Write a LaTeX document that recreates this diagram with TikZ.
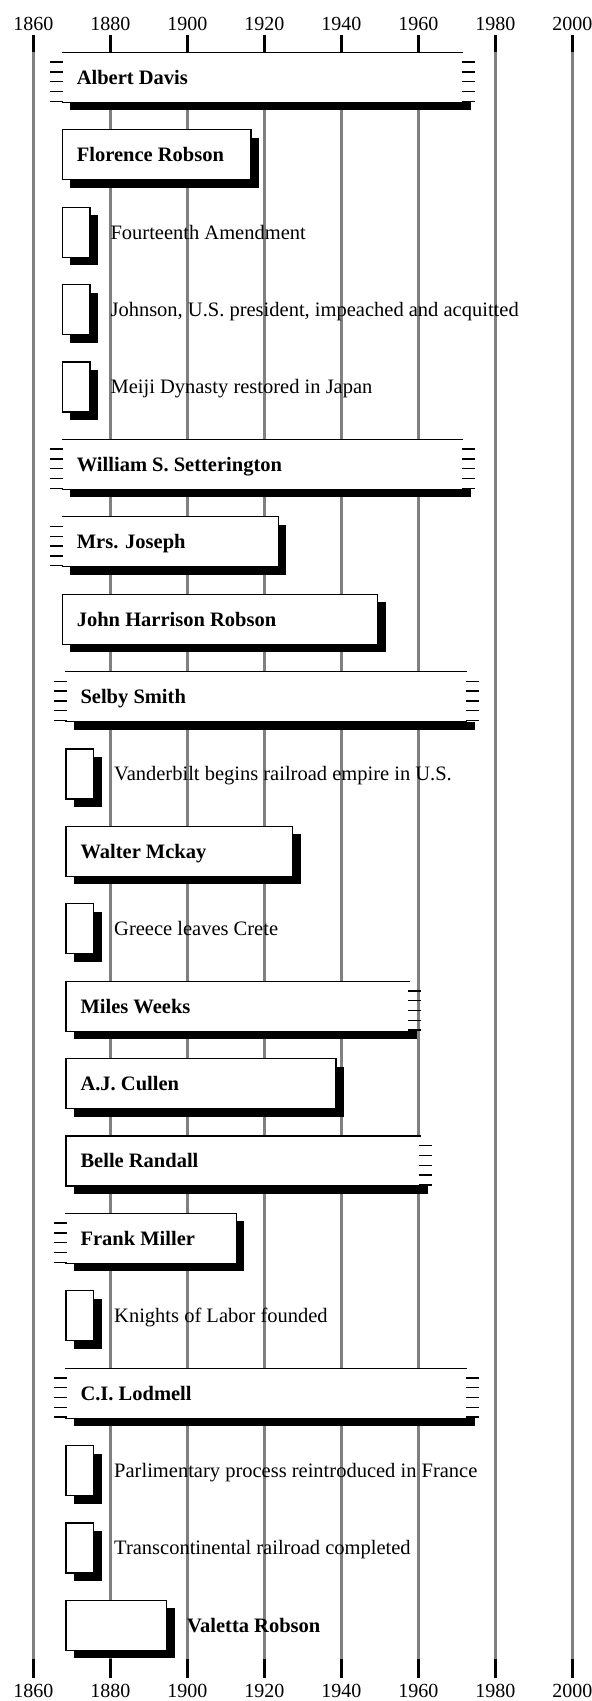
\documentclass[tikz,border=0pt]{standalone}
\usepackage{fontspec}
\setmainfont{Liberation Serif}
\usepackage{tikz}
\definecolor{gridgray}{RGB}{128,128,128}
\tikzset{
  yearline/.style={draw=gridgray, line width=2.7pt},
  yeartick/.style={draw=black, line width=3pt},
  yearlabel/.style={anchor=base, font=\fontsize{20}{24}\selectfont},
  barline/.style={line width=1.2pt, line cap=rect},
  fuzzline/.style={line width=1.5pt},
  barshadow/.style={fill=black},
  nametext/.style={anchor=base west, font=\fontsize{20.5}{24}\selectfont\bfseries},
  eventtext/.style={anchor=base west, font=\fontsize{20.5}{24}\selectfont}
}
% row, left, right, open left, open right, name, text inside, style, text
\newcommand{\timebar}[9]{%
  \pgfmathsetmacro{\bartop}{52.3+77.4*#1}%
  \pgfmathsetmacro{\barbot}{\bartop+50}%
  \ifnum#5=1
    \fill[barshadow] (#2+8,\barbot) rectangle (#3+8,\barbot+8);
  \else
    \fill[barshadow] (#2+8,\bartop+8) rectangle (#3+8,\barbot+8);
  \fi
  \fill[white] (#2,\bartop) rectangle (#3,\barbot);
  \draw[barline] (#2,\bartop) -- (#3,\bartop) (#2,\barbot) -- (#3,\barbot);
  \ifnum#4=1
    \foreach \k in {1,...,5} \draw[fuzzline] (#2-12,\bartop+9.8*\k) -- (#2+1,\bartop+9.8*\k);
  \else
    \draw[barline] (#2,\bartop) -- (#2,\barbot);
  \fi
  \ifnum#5=1
    \foreach \k in {1,...,5} \draw[fuzzline] (#3-1,\bartop+9.8*\k) -- (#3+12,\bartop+9.8*\k);
  \else
    \draw[barline] (#3,\bartop) -- (#3,\barbot);
  \fi
  \ifnum#7=1
    \node[#8] (#6) at (#2+11,\bartop+32) {#9};
  \else
    \node[#8] (#6) at (#3+17,\bartop+32) {#9};
  \fi
}

\begin{document}
\begin{tikzpicture}[x=1pt, y=-1pt]
  \useasboundingbox (0,0) rectangle (592,1701);
  % year grid
  \foreach \yr in {1860,1880,...,2000}{
    \pgfmathsetmacro{\yx}{33.3+3.85*(\yr-1860)}
    \draw[yearline] (\yx,51.7) -- (\yx,1659);
    \draw[yeartick] (\yx,35) -- (\yx,51.7);
    \draw[yeartick] (\yx,1659) -- (\yx,1678);
    \node[yearlabel] (top\yr) at (\yx,30) {\yr};
    \node[yearlabel] (bot\yr) at (\yx,1697) {\yr};
  }
  % lives and events
  \timebar{0}{62.3}{462.7}{1}{1}{albert}{1}{nametext}{Albert Davis}
  \timebar{1}{62.3}{251}{0}{0}{florence}{1}{nametext}{Florence Robson}
  \timebar{2}{62.3}{90}{0}{0}{amendment}{0}{eventtext}{Fourteenth Amendment}
  \timebar{3}{62.3}{90}{0}{0}{johnson}{0}{eventtext}{Johnson, U.S. president, impeached and acquitted}
  \timebar{4}{62.3}{90}{0}{0}{meiji}{0}{eventtext}{Meiji Dynasty restored in Japan}
  \timebar{5}{62.3}{462.7}{1}{1}{setterington}{1}{nametext}{William S. Setterington}
  \timebar{6}{62.3}{278.4}{1}{0}{joseph}{1}{nametext}{Mrs. Joseph}
  \timebar{7}{62.3}{377.7}{0}{0}{jhrobson}{1}{nametext}{John Harrison Robson}
  \timebar{8}{66}{466.5}{1}{1}{selby}{1}{nametext}{Selby Smith}
  \timebar{9}{66}{93.7}{0}{0}{vanderbilt}{0}{eventtext}{Vanderbilt begins railroad empire in U.S.}
  \timebar{10}{66}{292.5}{0}{0}{mckay}{1}{nametext}{Walter Mckay}
  \timebar{11}{66}{93.7}{0}{0}{crete}{0}{eventtext}{Greece leaves Crete}
  \timebar{12}{66}{409}{0}{1}{weeks}{1}{nametext}{Miles Weeks}
  \timebar{13}{66}{336}{0}{0}{cullen}{1}{nametext}{A.J. Cullen}
  \timebar{14}{66}{420}{0}{1}{randall}{1}{nametext}{Belle Randall}
  \timebar{15}{66}{236.4}{1}{0}{miller}{1}{nametext}{Frank Miller}
  \timebar{16}{66}{93.7}{0}{0}{knights}{0}{eventtext}{Knights of Labor founded}
  \timebar{17}{66}{466.5}{1}{1}{lodmell}{1}{nametext}{C.I. Lodmell}
  \timebar{18}{66}{93.7}{0}{0}{france}{0}{eventtext}{Parlimentary process reintroduced in France}
  \timebar{19}{66}{93.7}{0}{0}{railroad}{0}{eventtext}{Transcontinental railroad completed}
  \timebar{20}{66}{166.7}{0}{0}{valetta}{0}{nametext}{Valetta Robson}
\end{tikzpicture}
\end{document}
